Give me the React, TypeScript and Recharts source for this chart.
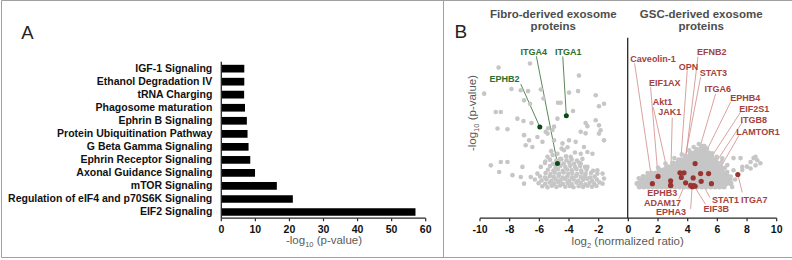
import React from 'react';
import { BarChart, Bar, XAxis, YAxis, ScatterChart, Scatter, ReferenceLine } from 'recharts';

const FONT = '"Liberation Sans", Arial, Helvetica, sans-serif';

// ---------- Panel A data ----------
const pathways = [
  'IGF-1 Signaling',
  'Ethanol Degradation IV',
  'tRNA Charging',
  'Phagosome maturation',
  'Ephrin B Signaling',
  'Protein Ubiquitination Pathway',
  'G Beta Gamma Signaling',
  'Ephrin Receptor Signaling',
  'Axonal Guidance Signaling',
  'mTOR Signaling',
  'Regulation of eIF4 and p70S6K Signaling',
  'EIF2 Signaling',
];
const pathwayScores = [6.75, 6.75, 6.7, 6.95, 7.5, 7.7, 8.0, 8.5, 9.9, 16.3, 21.0, 57.0];
const barTicks = [0, 10, 20, 30, 40, 50, 60];

// ---------- Panel B data ----------
const ratioTicks = [-10, -8, -6, -4, -2, 0, 2, 4, 6, 8, 10];
const pTicks = [0, 1, 2, 3, 4, 5, 6, 7];

// sparse grey points, fibro side (log2 ratio, -log10 p)
const fibroSparse: [number, number][] = [
  [-8.75, 5.84], [-6.63, 6.0], [-3.33, 5.53], [-9.72, 4.83], [-7.88, 5.01], [-7.25, 4.96],
  [-6.76, 4.93], [-5.9, 4.99], [-7.03, 4.57], [-6.63, 4.44], [-5.72, 4.64], [-4.74, 4.48],
  [-4.56, 4.48], [-4.0, 4.87], [-3.39, 4.93], [-2.2, 4.77], [-1.64, 4.44], [-1.98, 4.34],
  [-8.94, 4.12], [-8.6, 4.12], [-3.73, 4.16], [-7.48, 3.86], [-7.07, 3.77], [-6.53, 3.69],
  [-4.78, 3.86], [-8.82, 3.48], [-8.15, 3.45], [-2.88, 3.69], [-2.76, 3.57], [-2.2, 3.8],
  [-1.98, 3.6], [-1.87, 3.41], [-5.41, 3.49], [-5.12, 3.42], [-5.01, 3.55], [-5.57, 3.35],
  [-3.21, 3.35], [-2.88, 3.29],
  [-7.03, 3.22], [-6.69, 3.02], [-6.92, 2.83], [-6.47, 2.76], [-6.13, 3.15], [-5.79, 2.96],
  [-5.45, 3.28], [-5.01, 3.02], [-4.44, 2.9], [-4.0, 3.02], [-3.55, 2.96], [-2.99, 2.76],
  [-2.76, 2.57], [-2.42, 2.5], [-3.21, 2.5], [-1.98, 3.28], [-1.64, 3.02], [-9.27, 2.05],
  [-8.6, 2.18], [-8.15, 2.18], [-8.71, 1.79], [-7.81, 1.67], [-7.14, 1.99], [-7.25, 1.6],
  [-7.03, 1.34], [-6.58, 1.6], [-6.13, 1.73], [-5.9, 1.99], [-2.09, 1.73], [-1.74, 1.73],
  [-1.64, 1.54], [-1.74, 1.34],
  [-5.45, 2.38], [-4.78, 2.5], [-4.34, 2.64], [-3.89, 2.38], [-3.21, 2.12], [-2.76, 1.99],
  [-2.09, 1.86], [-5.2, 2.6], [-4.1, 2.75], [-3.6, 2.55], [-5.6, 2.2], [-4.6, 2.3],
  [-4.2, 2.4], [-3.1, 2.3], [-5.1, 2.45], [-4.5, 2.7],
];

// denser part of the fibro cloud
const fibroDense: [number, number][] = [
  [-5.8, 1.24], [-5.45, 1.2], [-5.15, 1.26], [-4.85, 1.21], [-4.6, 1.27], [-4.25, 1.22], [-3.95, 1.25],
  [-3.7, 1.2], [-3.35, 1.24], [-3.05, 1.21], [-2.75, 1.26], [-2.45, 1.22], [-2.15, 1.25],
  [-6.05, 1.36], [-5.6, 1.33], [-5.3, 1.38], [-5.0, 1.34], [-4.72, 1.39], [-4.42, 1.33], [-4.1, 1.37],
  [-3.82, 1.32], [-3.5, 1.38], [-3.2, 1.35], [-2.9, 1.31], [-2.62, 1.37], [-2.3, 1.34], [-1.95, 1.39],
  [-6.3, 1.5], [-5.85, 1.46], [-5.52, 1.51], [-5.18, 1.45], [-4.88, 1.5], [-4.58, 1.47], [-4.26, 1.52],
  [-3.98, 1.46], [-3.68, 1.5], [-3.38, 1.45], [-3.05, 1.49], [-2.78, 1.53], [-2.45, 1.46], [-2.12, 1.5],
  [-5.95, 1.62], [-5.62, 1.58], [-5.3, 1.63], [-5.02, 1.6], [-4.7, 1.64], [-4.42, 1.58], [-4.12, 1.62],
  [-3.8, 1.59], [-3.52, 1.64], [-3.2, 1.6], [-2.92, 1.63], [-2.58, 1.58], [-2.28, 1.62],
  [-5.58, 1.75], [-5.25, 1.71], [-4.96, 1.76], [-4.66, 1.72], [-4.36, 1.77], [-4.05, 1.72], [-3.78, 1.75],
  [-3.45, 1.71], [-3.15, 1.76], [-2.88, 1.72], [-2.52, 1.75],
  [-5.42, 1.88], [-5.05, 1.85], [-4.75, 1.9], [-4.42, 1.84], [-4.12, 1.89], [-3.82, 1.86], [-3.5, 1.9],
  [-3.18, 1.85], [-2.82, 1.88], [-2.38, 1.84],
  [-5.28, 2.02], [-4.9, 1.98], [-4.58, 2.03], [-4.25, 1.99], [-3.92, 2.03], [-3.58, 1.98], [-3.25, 2.02],
  [-2.92, 1.99],
  [-5.62, 2.14], [-5.08, 2.11], [-4.7, 2.16], [-4.36, 2.12], [-3.98, 2.15], [-3.66, 2.11], [-3.32, 2.15],
  [-5.28, 2.27], [-4.86, 2.24], [-4.52, 2.29], [-4.16, 2.25], [-3.82, 2.28], [-3.46, 2.24],
];

// dense GSC cloud, by row: [-log10 p, log2 ratios]
const gscDenseRows: [number, number[]][] = [
  [1.22, [0.75, 1.05, 1.35, 1.65, 1.95, 2.25, 2.55, 2.85, 3.15, 3.45, 3.75, 4.05, 4.35, 4.65, 4.95, 5.25, 5.55, 5.85, 6.15, 6.45]],
  [1.35, [0.6, 0.9, 1.2, 1.5, 1.8, 2.1, 2.4, 2.7, 3.0, 3.3, 3.6, 3.9, 4.2, 4.5, 4.8, 5.1, 5.4, 5.7, 6.0, 6.3, 6.6, 6.9]],
  [1.48, [0.85, 1.15, 1.45, 1.75, 2.05, 2.35, 2.65, 2.95, 3.25, 3.55, 3.85, 4.15, 4.45, 4.75, 5.05, 5.35, 5.65, 5.95, 6.25, 6.55, 6.85]],
  [1.61, [1.0, 1.3, 1.6, 1.9, 2.2, 2.5, 2.8, 3.1, 3.4, 3.7, 4.0, 4.3, 4.6, 4.9, 5.2, 5.5, 5.8, 6.1, 6.4, 6.7]],
  [1.74, [1.55, 1.85, 2.15, 2.45, 2.75, 3.05, 3.35, 3.65, 3.95, 4.25, 4.55, 4.85, 5.15, 5.45, 5.75, 6.05, 6.35, 6.6]],
  [1.87, [2.1, 2.4, 2.7, 3.0, 3.3, 3.6, 3.9, 4.2, 4.5, 4.8, 5.1, 5.4, 5.7, 6.0, 6.3]],
  [2.0, [2.6, 2.9, 3.2, 3.5, 3.8, 4.1, 4.4, 4.7, 5.0, 5.3, 5.6, 5.9, 6.2]],
  [2.13, [3.0, 3.3, 3.6, 3.9, 4.2, 4.5, 4.8, 5.1, 5.4, 5.7, 6.0]],
  [2.26, [3.4, 3.7, 4.0, 4.3, 4.6, 4.9, 5.2, 5.5, 5.8]],
  [2.4, [3.85, 4.15, 4.45, 4.75, 5.05, 5.35, 5.6]],
  [2.53, [4.2, 4.5, 4.8, 5.1, 5.4]],
  [2.66, [4.6, 4.9, 5.15]],
  [2.78, [4.95, 5.1]],
];

const gscSparse: [number, number][] = [
  [7.09, 2.33], [7.56, 2.33], [8.24, 2.18], [8.44, 2.33], [8.69, 2.25], [8.57, 2.05],
  [8.24, 1.93], [7.68, 1.99], [7.09, 1.86], [6.67, 1.79], [7.0, 1.21], [6.75, 1.41],
  [6.33, 2.32], [6.67, 2.06], [8.9, 2.13], [8.57, 2.38], [7.68, 1.87], [8.0, 2.0],
  [6.9, 1.62], [7.2, 1.5],
  [0.7, 1.55], [1.3, 1.75], [2.0, 1.96], [2.5, 2.12], [3.1, 2.33], [3.6, 2.48], [4.1, 2.63],
  [4.4, 2.76], [5.3, 2.7], [5.65, 2.52], [5.95, 2.38], [6.3, 2.18], [6.5, 1.95], [4.75, 2.88],
];

// highlighted fibro proteins: name, point, label position, leader start
const fibroNames = ['EPHB2', 'ITGA1', 'ITGA4'];
const fibroPoints: [number, number][] = [[-5.97, 3.54], [-4.18, 3.97], [-4.78, 2.12]];
const fibroLabelPos: [number, number][] = [[-8.35, 5.42], [-4.05, 6.46], [-6.38, 6.46]];
const fibroLeaderStart: [number, number][] = [[-7.25, 5.2], [-4.42, 6.27], [-6.2, 6.28]];

// highlighted GSC proteins
const gscNames = [
  'Caveolin-1', 'EFNB2', 'OPN', 'STAT3', 'EIF1AX', 'ITGA6', 'EPHB4', 'Akt1', 'EIF2S1',
  'JAK1', 'ITGB8', 'LAMTOR1', 'EPHB3', 'ADAM17', 'EPHA3', 'STAT1', 'EIF3B', 'ITGA7',
];
const gscLabelPos: [number, number][] = [
  [1.67, 6.17], [5.63, 6.46], [4.06, 5.87], [5.73, 5.62], [2.46, 5.25], [6.03, 5.02],
  [7.88, 4.67], [2.31, 4.52], [8.49, 4.23], [2.79, 4.12], [8.46, 3.81], [8.74, 3.35],
  [2.29, 0.97], [2.31, 0.6], [2.88, 0.25], [6.55, 0.71], [5.93, 0.38], [8.48, 0.73],
];
const gscLeaderStart: [number, number][] = [
  [0.42, 6.01], [4.69, 6.26], [3.97, 5.73], [4.87, 5.47], [1.5, 5.08], [5.88, 4.82],
  [6.89, 4.5], [1.68, 4.3], [7.56, 4.11], [2.96, 3.9], [7.68, 3.72], [7.45, 3.21],
  [2.85, 1.08], [3.39, 0.74], [4.2, 0.36], [5.5, 0.8], [5.2, 0.54], [7.68, 1.0],
];
const gscPoints: [number, number][] = [
  [1.62, 1.34], [3.75, 1.76], [3.48, 1.76], [3.57, 1.58], [2.0, 1.62], [4.5, 2.12],
  [4.37, 1.56], [2.85, 1.27], [4.87, 1.73], [2.85, 1.45], [5.41, 1.73], [5.6, 1.34],
  [2.85, 1.27], [3.86, 1.37], [4.3, 1.22], [4.91, 1.43], [4.42, 1.26], [7.38, 1.69],
];
const gscExtraPoints: [number, number][] = [[4.2, 1.27], [4.5, 1.24]];

// ---------- derived tables ----------
const barData = pathways.map((name, i) => ({ name, value: pathwayScores[i] }));
const toXY = (p: [number, number]) => ({ x: p[0], y: p[1] });
const rowsToXY = (rows: [number, number[]][]) =>
  rows.flatMap(([y, xs]) => xs.map((x) => ({ x, y })));
const greySparseData = [...fibroSparse.map(toXY), ...fibroDense.map(toXY), ...gscSparse.map(toXY)];
const greyDenseData = rowsToXY(gscDenseRows);
const fibroPointData = fibroPoints.map(toXY);
const gscPointData = [...gscPoints, ...gscExtraPoints].map(toXY);
const fibroLabelData = fibroNames.map((name, i) => ({ name, x: fibroLabelPos[i][0], y: fibroLabelPos[i][1] }));
const gscLabelData = gscNames.map((name, i) => ({ name, x: gscLabelPos[i][0], y: gscLabelPos[i][1] }));

const GREY = '#c6c6c6';
const RED_TXT = '#a5423e';
const RED_DOT = '#9a3430';
const RED_LINE = '#cf8a86';
const GREEN_TXT = '#2c6e2c';
const GREEN_DOT = '#0c4a14';
const GREEN_LINE = '#2f6a2f';
const AXIS = '#262626';

const tickStyle = { fontSize: 10.5, fontWeight: 700, fill: '#111', fontFamily: FONT };

const dot = (r: number, fill: string) => (props: any) =>
  props.cx == null ? <g /> : <circle cx={props.cx} cy={props.cy} r={r} fill={fill} />;

const labelShape = (fill: string) => (props: any) => {
  const name = props.payload?.name ?? props.name;
  if (props.cx == null) return <g />;
  return (
    <text x={props.cx} y={props.cy} dy="0.35em" textAnchor="middle" fontFamily={FONT}
      fontSize={9} fontWeight={700} fill={fill}>{name}</text>
  );
};

const CategoryTick = (props: any) => (
  <text x={props.x} y={props.y} dy="0.36em" textAnchor="end" fontFamily={FONT} fontSize={10.5}
    fontWeight={700} fill="#111">{props.payload?.value}</text>
);

function PanelA() {
  return (
    <BarChart width={443} height={260} layout="vertical" data={barData}
      margin={{ top: 61.8, right: 17.3, bottom: 16.8, left: 6.3 }}>
      <XAxis type="number" domain={[0, 60]} ticks={barTicks} height={25} tickSize={3} tickMargin={4.5}
        axisLine={{ stroke: AXIS, strokeWidth: 1.3 }} tickLine={{ stroke: AXIS, strokeWidth: 1.2 }}
        tick={tickStyle} />
      <YAxis type="category" dataKey="name" width={215} tickSize={6} tickMargin={3} tickLine={false}
        axisLine={{ stroke: AXIS, strokeWidth: 1.3 }} tick={CategoryTick} interval={0} />
      <Bar dataKey="value" fill="#000" barSize={7.7} isAnimationActive={false} />
    </BarChart>
  );
}

function PanelB() {
  return (
    <ScatterChart width={349} height={260} margin={{ top: 37.7, right: 15.3, bottom: 16.8, left: 37 }}>
      <XAxis type="number" dataKey="x" domain={[-10, 10]} ticks={ratioTicks} height={25} tickSize={3}
        tickMargin={4.5} axisLine={{ stroke: AXIS, strokeWidth: 1.3 }}
        tickLine={{ stroke: AXIS, strokeWidth: 1.2 }} tick={tickStyle} />
      <YAxis type="number" dataKey="y" domain={[0, 7]} hide />
      <Scatter data={greyDenseData} shape={dot(2.75, GREY)} isAnimationActive={false} />
      <Scatter data={greySparseData} shape={dot(2.3, GREY)} isAnimationActive={false} />
      {fibroNames.map((n, i) => (
        <ReferenceLine key={n} segment={[toXY(fibroLeaderStart[i]), toXY(fibroPoints[i])]}
          stroke={GREEN_LINE} strokeWidth={0.8} />
      ))}
      {gscNames.map((n, i) => (
        <ReferenceLine key={n} segment={[toXY(gscLeaderStart[i]), toXY(gscPoints[i])]}
          stroke={RED_LINE} strokeWidth={0.8} />
      ))}
      <Scatter data={fibroPointData} shape={dot(2.5, GREEN_DOT)} isAnimationActive={false} />
      <Scatter data={gscPointData} shape={dot(2.6, RED_DOT)} isAnimationActive={false} />
      <Scatter data={fibroLabelData} shape={labelShape(GREEN_TXT)} isAnimationActive={false} />
      <Scatter data={gscLabelData} shape={labelShape(RED_TXT)} isAnimationActive={false} />
    </ScatterChart>
  );
}

function PanelBYAxis() {
  const w = 30;
  return (
    <ScatterChart width={349} height={260}
      margin={{ top: 37.7, right: 15.3, bottom: 41.8, left: 184.7 - w }}>
      <XAxis type="number" dataKey="x" domain={[0, 10]} hide />
      <YAxis type="number" dataKey="y" domain={[0, 7]} ticks={pTicks} width={w} tickSize={3} tickMargin={1.5}
        axisLine={{ stroke: AXIS, strokeWidth: 1.3 }} tickLine={{ stroke: AXIS, strokeWidth: 1.2 }}
        tick={tickStyle} interval={0} />
      <Scatter data={[]} isAnimationActive={false} />
    </ScatterChart>
  );
}

function Overlay() {
  const titleColor = '#4d4d4d';
  const axTitle = { fontFamily: FONT, fontSize: 11.5, fill: '#5a5a5a' };
  return (
    <svg width={792} height={260} style={{ position: 'absolute', left: 0, top: 0, pointerEvents: 'none' }}>
      <line x1={1.5} y1={0.5} x2={792} y2={0.5} stroke="#a0a0a0" />
      <line x1={1.5} y1={0.5} x2={1.5} y2={257.5} stroke="#a0a0a0" />
      <line x1={1.5} y1={257.5} x2={792} y2={257.5} stroke="#a0a0a0" />
      <line x1={443.5} y1={0.5} x2={443.5} y2={257.5} stroke="#a0a0a0" />
      <text x={27.5} y={39} textAnchor="middle" fontFamily={FONT} fontSize={18.5} fill="#222">A</text>
      <text x={460.8} y={38.3} textAnchor="middle" fontFamily={FONT} fontSize={19} fill="#222">B</text>
      <text x={324} y={244} textAnchor="middle" {...axTitle}>
        -log<tspan fontSize={7.5} dy={2.5}>10</tspan><tspan dy={-2.5}> (p-value)</tspan>
      </text>
      <text x={627.7} y={245} textAnchor="middle" {...axTitle}>
        log<tspan fontSize={7.5} dy={2.5}>2</tspan><tspan dy={-2.5}> (normalized ratio)</tspan>
      </text>
      <text x={476} y={113} textAnchor="middle" transform="rotate(-90 476 113)" {...axTitle}>
        -log<tspan fontSize={7.5} dy={2.5}>10</tspan><tspan dy={-2.5}> (p-value)</tspan>
      </text>
      <g fontFamily={FONT} fontSize={11.5} fontWeight={700} fill={titleColor} textAnchor="middle">
        <text x={553.3} y={17.5}>Fibro-derived exosome</text>
        <text x={553.3} y={30}>proteins</text>
        <text x={701.2} y={17.5}>GSC-derived exosome</text>
        <text x={701.2} y={30}>proteins</text>
      </g>
    </svg>
  );
}

export default function App() {
  return (
    <div style={{ position: 'absolute', left: 0, top: 0, width: 792, height: 260, background: '#fff', overflow: 'hidden' }}>
      <div style={{ position: 'absolute', left: 0, top: 0 }}><PanelA /></div>
      <div style={{ position: 'absolute', left: 443, top: 0 }}><PanelB /></div>
      <div style={{ position: 'absolute', left: 443, top: 0 }}><PanelBYAxis /></div>
      <Overlay />
    </div>
  );
}
